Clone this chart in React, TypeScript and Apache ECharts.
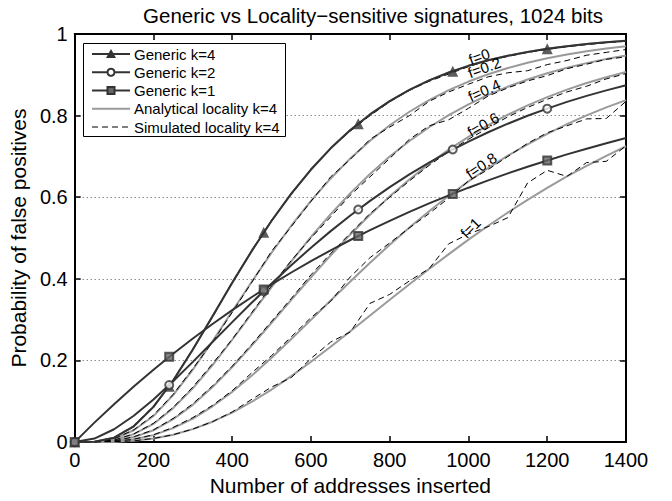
import { useEffect, useRef } from 'react';
import * as echarts from 'echarts';

// addresses inserted (x) for sampled curves
const nValues = [0, 50, 100, 150, 200, 250, 300, 350, 400, 450, 500, 550, 600, 650, 700, 750, 800, 850, 900, 950, 1000, 1050, 1100, 1150, 1200, 1250, 1300, 1350, 1400];

// Generic Bloom-filter curves
const genericK4 = [0, 0.001, 0.0109, 0.0387, 0.0864, 0.151, 0.2269, 0.3084, 0.3903, 0.4691, 0.5424, 0.6088, 0.6679, 0.7198, 0.7646, 0.8029, 0.8356, 0.8632, 0.8864, 0.9056, 0.922, 0.9355, 0.9467, 0.956, 0.9637, 0.9701, 0.9753, 0.9797, 0.9832];
const genericK2 = [0, 0.0087, 0.0315, 0.0645, 0.1045, 0.1492, 0.1966, 0.2452, 0.294, 0.342, 0.3886, 0.4335, 0.4764, 0.517, 0.5553, 0.5912, 0.6247, 0.6559, 0.6849, 0.7117, 0.7365, 0.7593, 0.7802, 0.7996, 0.8172, 0.8336, 0.8484, 0.8619, 0.8744];
const genericK1 = [0, 0.0477, 0.093, 0.1363, 0.1774, 0.2166, 0.2539, 0.2895, 0.3233, 0.3556, 0.3863, 0.4156, 0.4434, 0.47, 0.4952, 0.5192, 0.5422, 0.564, 0.5848, 0.6045, 0.6234, 0.6413, 0.6584, 0.6747, 0.6902, 0.705, 0.719, 0.7324, 0.7452];

// marker positions on generic curves
const markerN = [0, 240, 480, 720, 960, 1200];
const markerK4 = [0, 0.137, 0.514, 0.78, 0.909, 0.964];
const markerK2 = [0, 0.14, 0.37, 0.57, 0.717, 0.817];
const markerK1 = [0, 0.209, 0.374, 0.505, 0.608, 0.69];

// Analytical locality k=4 (f = 0 ... 1)
const analyticalF0 = [0, 0.001, 0.0109, 0.0387, 0.0864, 0.151, 0.2269, 0.3084, 0.3903, 0.4691, 0.5424, 0.6088, 0.6679, 0.7198, 0.7646, 0.8029, 0.8356, 0.8632, 0.8864, 0.9056, 0.922, 0.9355, 0.9467, 0.956, 0.9637, 0.9701, 0.9753, 0.9797, 0.9832];
const analyticalF02 = [0, 0.0007, 0.0075, 0.029, 0.0638, 0.1152, 0.1775, 0.2472, 0.3207, 0.3935, 0.4642, 0.5302, 0.5913, 0.6461, 0.6952, 0.7385, 0.7765, 0.8095, 0.838, 0.8625, 0.8835, 0.9014, 0.9167, 0.9297, 0.9407, 0.95, 0.9579, 0.9645, 0.9702];
const analyticalF04 = [0, 0.0004, 0.0049, 0.0196, 0.0445, 0.0832, 0.1318, 0.1887, 0.2508, 0.3151, 0.3799, 0.4426, 0.5026, 0.5584, 0.6101, 0.6571, 0.6997, 0.7377, 0.7715, 0.8014, 0.8277, 0.8508, 0.8709, 0.8885, 0.9038, 0.9171, 0.9286, 0.9385, 0.9471];
const analyticalF06 = [0, 0.0002, 0.003, 0.0123, 0.029, 0.056, 0.0913, 0.1348, 0.184, 0.2371, 0.2925, 0.3484, 0.4039, 0.4575, 0.5089, 0.5571, 0.6021, 0.6436, 0.6818, 0.7166, 0.7481, 0.7766, 0.8022, 0.825, 0.8454, 0.8636, 0.8798, 0.8941, 0.9068];
const analyticalF08 = [0, 0.0001, 0.0016, 0.0069, 0.0171, 0.0342, 0.0576, 0.0877, 0.1232, 0.1633, 0.2067, 0.2524, 0.2995, 0.3468, 0.3937, 0.4394, 0.4836, 0.5258, 0.5658, 0.6035, 0.6388, 0.6716, 0.7019, 0.7298, 0.7555, 0.779, 0.8005, 0.8201, 0.838];
const analyticalF1 = [0, 0.0001, 0.0008, 0.0034, 0.0088, 0.0182, 0.0318, 0.05, 0.0724, 0.0989, 0.1288, 0.1617, 0.1969, 0.2337, 0.2716, 0.3101, 0.3486, 0.3867, 0.4241, 0.4607, 0.4962, 0.5302, 0.5627, 0.5937, 0.6232, 0.6509, 0.677, 0.7016, 0.7249];

// Simulated locality k=4 (f = 0 ... 1)
const simulatedF0 = [0, 0.001, 0.011, 0.04, 0.088, 0.152, 0.228, 0.306, 0.392, 0.47, 0.544, 0.607, 0.668, 0.72, 0.762, 0.8, 0.834, 0.862, 0.884, 0.902, 0.92, 0.935, 0.945, 0.955, 0.962, 0.969, 0.974, 0.979, 0.982];
const simulatedF02 = [0, 0.001, 0.008, 0.03, 0.066, 0.117, 0.18, 0.245, 0.318, 0.392, 0.468, 0.528, 0.59, 0.65, 0.693, 0.742, 0.772, 0.8, 0.835, 0.858, 0.877, 0.895, 0.905, 0.91, 0.925, 0.935, 0.948, 0.955, 0.962];
const simulatedF04 = [0, 0.0005, 0.005, 0.02, 0.046, 0.085, 0.135, 0.192, 0.252, 0.318, 0.383, 0.445, 0.5, 0.552, 0.605, 0.65, 0.695, 0.742, 0.775, 0.79, 0.818, 0.848, 0.868, 0.885, 0.898, 0.915, 0.926, 0.938, 0.944];
const simulatedF06 = [0, 0.0002, 0.003, 0.013, 0.03, 0.058, 0.094, 0.138, 0.186, 0.24, 0.296, 0.352, 0.41, 0.462, 0.512, 0.56, 0.6, 0.64, 0.678, 0.712, 0.742, 0.77, 0.797, 0.82, 0.84, 0.858, 0.872, 0.89, 0.903];
const simulatedF08 = [0, 0.0001, 0.002, 0.007, 0.018, 0.036, 0.06, 0.09, 0.126, 0.17, 0.212, 0.258, 0.305, 0.345, 0.405, 0.452, 0.488, 0.525, 0.56, 0.598, 0.64, 0.668, 0.7, 0.732, 0.758, 0.775, 0.792, 0.793, 0.835];
const simulatedF1 = [0, 0.0001, 0.001, 0.003, 0.009, 0.018, 0.032, 0.05, 0.074, 0.105, 0.135, 0.158, 0.205, 0.245, 0.27, 0.34, 0.362, 0.395, 0.425, 0.486, 0.51, 0.528, 0.55, 0.635, 0.666, 0.651, 0.685, 0.688, 0.726];

// curve annotations: text, anchor [n, p], rotation (deg)
const curveLabelText = ['f=0', 'f=0.2', 'f=0.4', 'f=0.6', 'f=0.8', 'f=1'];
const curveLabelAnchor = [[1027, 0.945], [1040, 0.918], [1040, 0.862], [1037, 0.778], [1032, 0.678], [1005, 0.525]];
const curveLabelAngle = [20, 20, 24, 30, 34, 45];

const legendLabels = ['Generic k=4', 'Generic k=2', 'Generic k=1', 'Analytical locality k=4', 'Simulated locality k=4'];

const xTicks = { min: 0, max: 1400, interval: 200 };
const yTicks = { min: 0, max: 1, interval: 0.2 };

const FONT = '"Liberation Sans", Arial, Helvetica, sans-serif';
const DARK = '#333333';
const GRAY = '#9a9a9a';

function pairs(ys: number[]) {
  return ys.map((y, i) => [nValues[i], y]);
}
function markerPairs(ys: number[]) {
  return ys.map((y, i) => [markerN[i], y]);
}

export default function App() {
  const ref = useRef<HTMLDivElement>(null);

  useEffect(() => {
    if (!ref.current) return;
    const chart = echarts.init(ref.current, null, { renderer: 'svg' });

    const axisLine = { show: true, onZero: false, lineStyle: { color: '#000', width: 2 } };
    const axisTick = { show: true, inside: true, length: 6, lineStyle: { color: '#000', width: 1.5 } };
    const labelStyle = { fontSize: 20, color: '#000', fontFamily: FONT };
    const nameStyle = { fontSize: 21, color: '#000', fontFamily: FONT };

    const analytical = [analyticalF0, analyticalF02, analyticalF04, analyticalF06, analyticalF08, analyticalF1];
    const simulated = [simulatedF0, simulatedF02, simulatedF04, simulatedF06, simulatedF08, simulatedF1];

    const series: any[] = [];
    analytical.forEach((arr, i) => {
      series.push({
        type: 'line', name: 'Analytical locality k=4 ' + i, data: pairs(arr), showSymbol: false, symbol: 'none',
        lineStyle: { color: GRAY, width: 2 }, z: 2,
      });
    });
    simulated.forEach((arr, i) => {
      series.push({
        type: 'line', name: 'Simulated locality k=4 ' + i, data: pairs(arr), showSymbol: false, symbol: 'none',
        lineStyle: { color: '#000', width: 1, type: [6, 4] }, z: 3,
      });
    });
    [genericK4, genericK2, genericK1].forEach((arr, i) => {
      series.push({
        type: 'line', name: legendLabels[i], data: pairs(arr), showSymbol: false, symbol: 'none',
        lineStyle: { color: DARK, width: 2 }, z: 4,
      });
    });
    series.push({
      type: 'scatter', name: 'k4 markers', data: markerPairs(markerK4), symbol: 'triangle', symbolSize: 11,
      itemStyle: { color: DARK }, z: 5,
    });
    series.push({
      type: 'scatter', name: 'k2 markers', data: markerPairs(markerK2), symbol: 'circle', symbolSize: 8,
      itemStyle: { color: '#ffffff', borderColor: DARK, borderWidth: 2 }, z: 5,
    });
    series.push({
      type: 'scatter', name: 'k1 markers', data: markerPairs(markerK1), symbol: 'rect', symbolSize: 8,
      itemStyle: { color: '#666', borderColor: DARK, borderWidth: 2 }, z: 5,
    });

    chart.setOption({
      animation: false,
      backgroundColor: '#ffffff',
      title: {
        text: 'Generic vs Locality\u2212sensitive signatures, 1024 bits',
        left: 368, top: 0, textAlign: 'center',
        textStyle: { fontSize: 20.5, fontWeight: 'normal', color: '#000', fontFamily: FONT },
      },
      grid: { left: 71, right: 46, top: 34, bottom: 51, containLabel: false },
      xAxis: [
        {
          type: 'value', ...xTicks, position: 'bottom',
          axisLine, axisTick, splitLine: { show: false },
          axisLabel: { ...labelStyle, margin: 8, showMaxLabel: true, showMinLabel: true, formatter: (v: number) => String(v) },
          name: 'Number of addresses inserted', nameLocation: 'middle', nameGap: 27,
          nameTextStyle: { ...nameStyle },
        },
        {
          type: 'value', ...xTicks, position: 'top',
          axisLine, axisTick, splitLine: { show: false }, axisLabel: { show: false },
        },
      ],
      yAxis: [
        {
          type: 'value', ...yTicks, position: 'left',
          axisLine, axisTick,
          splitLine: { show: true, lineStyle: { color: '#555', width: 1, type: [1, 3] } },
          axisLabel: { ...labelStyle, margin: 7, showMaxLabel: true, showMinLabel: true, formatter: (v: number) => String(Math.round(v * 10) / 10) },
          name: 'Probability of false positives', nameLocation: 'middle', nameGap: 40,
          nameTextStyle: { ...nameStyle },
        },
        {
          type: 'value', ...yTicks, position: 'right',
          axisLine, axisTick, splitLine: { show: false }, axisLabel: { show: false },
        },
      ],
      series,
    });

    // legend (drawn as graphic)
    const lx = 83.5, ly = 43.5, rowH = 18.25, row0 = 54;
    const legendEls: any[] = [
      { type: 'rect', shape: { x: lx, y: ly, width: 202, height: 93 }, style: { fill: '#fff', stroke: '#000', lineWidth: 1 }, z: 100 },
    ];
    legendLabels.forEach((t, i) => {
      const cy = row0 + i * rowH;
      const isGray = i === 3;
      const isDash = i === 4;
      legendEls.push({
        type: 'line', shape: { x1: 92, y1: cy, x2: 130, y2: cy },
        style: { stroke: isGray ? GRAY : isDash ? '#000' : DARK, lineWidth: isDash ? 1 : 2, lineDash: isDash ? [6, 4] : null },
        z: 101,
      });
      legendEls.push({
        type: 'text', x: 134, y: cy,
        style: { text: t, fill: '#000', font: '15px ' + FONT, textVerticalAlign: 'middle', textAlign: 'left' },
        z: 101,
      });
    });
    legendEls.push({ type: 'polygon', shape: { points: [[111, row0 - 5], [106, row0 + 4], [116, row0 + 4]] }, style: { fill: DARK }, z: 102 });
    legendEls.push({ type: 'circle', shape: { cx: 111, cy: row0 + rowH, r: 3.5 }, style: { fill: '#fff', stroke: DARK, lineWidth: 2 }, z: 102 });
    legendEls.push({ type: 'rect', shape: { x: 107.5, y: row0 + 2 * rowH - 3.5, width: 7, height: 7 }, style: { fill: '#666', stroke: DARK, lineWidth: 2 }, z: 102 });

    const labelEls = curveLabelText.map((t, i) => {
      const p = chart.convertToPixel({ gridIndex: 0 }, curveLabelAnchor[i]) as number[];
      return {
        type: 'text', x: p[0], y: p[1], rotation: (curveLabelAngle[i] * Math.PI) / 180,
        style: { text: t, fill: '#000', font: '15px ' + FONT, textAlign: 'center', textVerticalAlign: 'middle' },
        z: 50,
      };
    });

    chart.setOption({ graphic: [...legendEls, ...labelEls] });

    return () => chart.dispose();
  }, []);

  return <div ref={ref} style={{ position: 'fixed', left: 0, top: 0, width: 672, height: 501 }} />;
}
